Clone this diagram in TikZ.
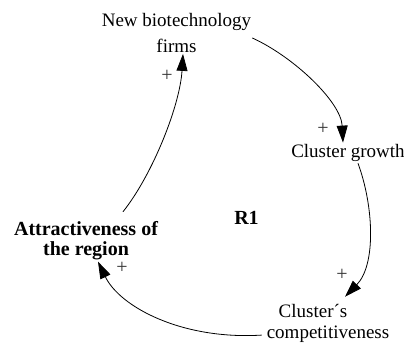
\documentclass[tikz,border=0pt]{standalone}
\usepackage{fontspec}
\setmainfont{Liberation Serif}
\usetikzlibrary{arrows.meta}
\begin{document}
\begin{tikzpicture}[x=1pt,y=1pt,
  var/.style={align=center,inner sep=1pt,font=\fontsize{19}{21}\selectfont},
  key/.style={var,font=\fontsize{20}{20}\selectfont\bfseries},
  link/.style={line width=0.8pt,-{Triangle[length=17pt,width=11pt]}},
  sign/.style={text=black!80,inner sep=0pt,font=\fontsize{20}{20}\selectfont}]
\useasboundingbox (0,0) rectangle (404,343);
% variables
\node[var,font=\fontsize{19}{26}\selectfont] (nb) at (176.5,310) {New biotechnology\\firms};
\node[var,anchor=base] (cg) at (348,185) {Cluster growth};
\node[var] (cc) at (328,19.9) {Cluster´s\hspace*{30pt}\\competitiveness};
\node[key] (at) at (86,102.8) {Attractiveness of\\the region};
\node[key,anchor=base] (r1) at (246.5,118) {R1};
% causal links
\draw[link] ([yshift=-5pt]nb.east)
  .. controls (294,286) and (341,241) .. ([xshift=-5pt,yshift=1pt]cg.north);
\draw[link] ([xshift=10pt]cg.south)
  .. controls (374,136) and (376,78) .. ([xshift=17pt,yshift=6pt]cc.north);
\draw[link] ([xshift=-4pt,yshift=-12pt]cc.west)
  .. controls (182,3) and (120,36) .. ([xshift=12pt,yshift=-1pt]at.south);
\draw[link] ([xshift=37pt,yshift=8pt]at.north)
  .. controls (153,169) and (180,238) .. ([xshift=6.5pt,yshift=0pt]nb.south);
% polarities
\node[sign] (p1) at (167,267) {+};
\node[sign] (p2) at (323,214) {+};
\node[sign] (p3) at (342,68) {+};
\node[sign] (p4) at (122,75) {+};
\end{tikzpicture}
\end{document}
